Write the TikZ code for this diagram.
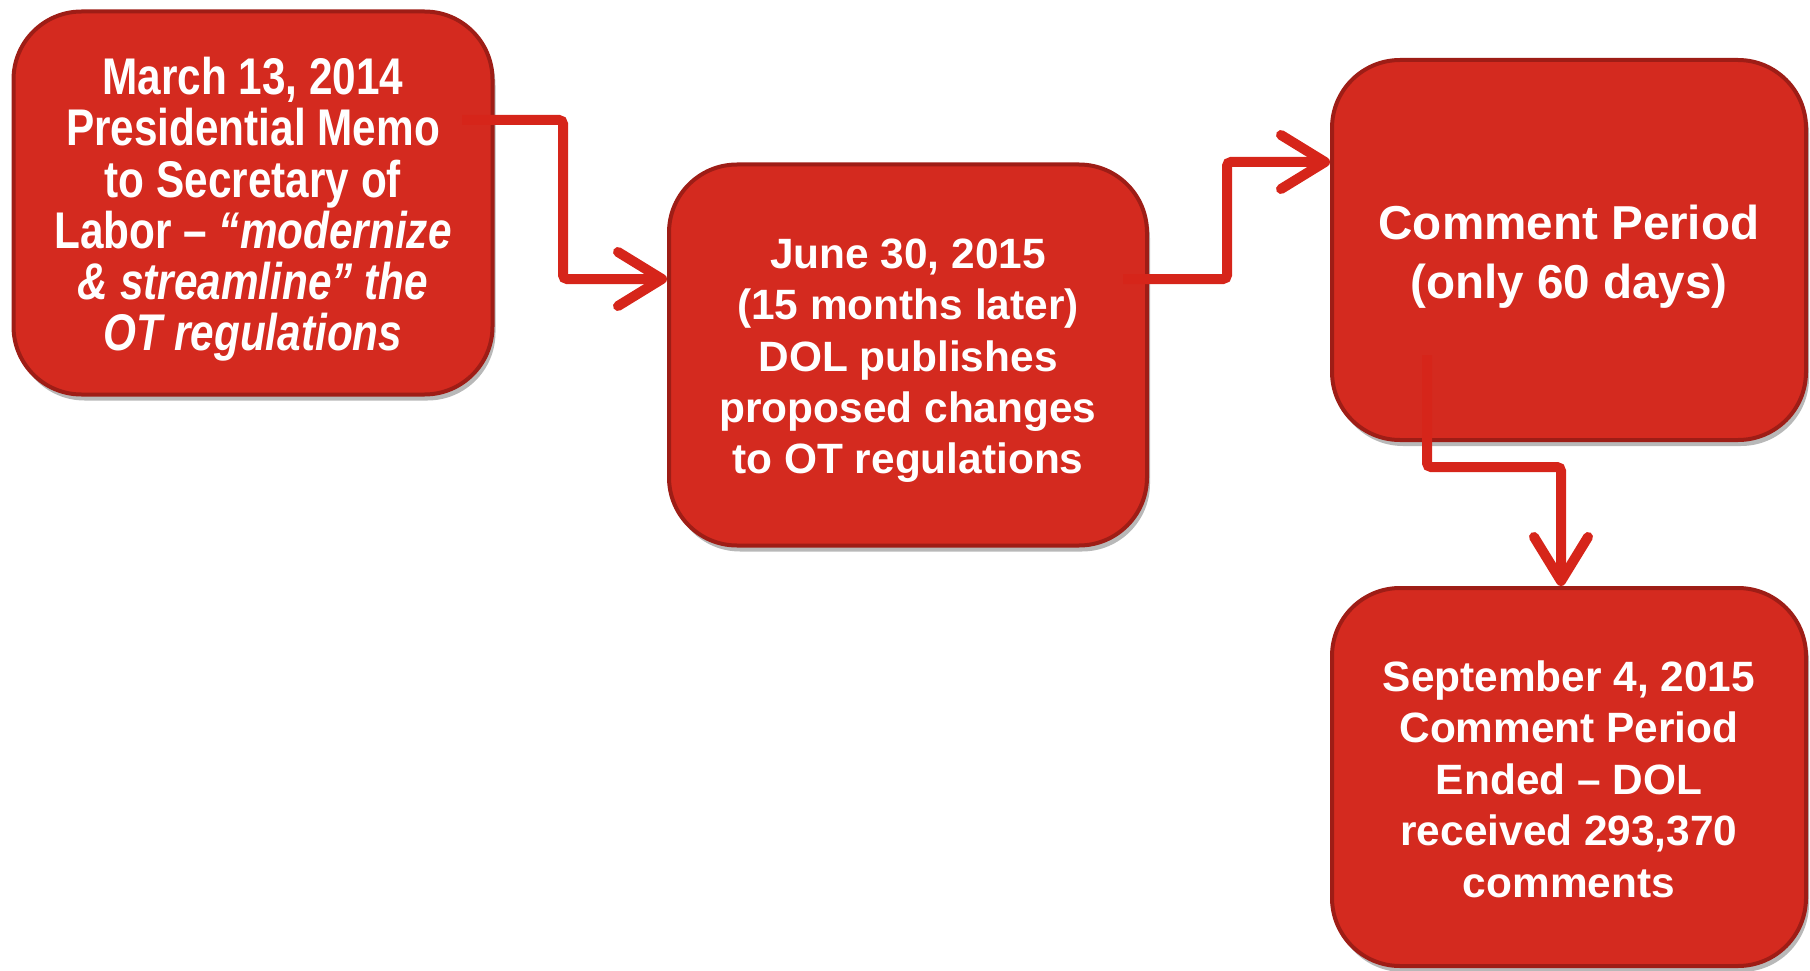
\documentclass[tikz,border=0pt]{standalone}
\usepackage{fontspec}
\setmainfont{Liberation Sans}
\newfontfamily\narrowfont{Liberation Sans}[FakeStretch=0.82]
\usetikzlibrary{arrows.meta,shadows}
\definecolor{boxfill}{RGB}{212,42,31}
\definecolor{boxedge}{RGB}{158,29,22}
\definecolor{arrowred}{RGB}{214,37,26}
\newcommand{\pushdown}[1]{\rule{0pt}{#1}}
\tikzset{
  stepbox/.style={draw=boxedge, line width=4pt, fill=boxfill, rounded corners=68pt,
    inner sep=0pt, align=center, text=white,
    drop shadow={shadow xshift=3pt, shadow yshift=-6pt, fill=black, opacity=0.28}},
  conn/.style={draw=arrowred, line width=10pt, rounded corners=4pt,
    -{Straight Barb[length=44pt, width=54pt, round]}},
  maintext/.style={font=\fontsize{42.4}{51.4}\selectfont\bfseries},
  bigtext/.style={font=\fontsize{47.6}{59}\selectfont\bfseries},
  narrowtext/.style={font=\narrowfont\fontsize{51.6}{51.2}\selectfont\bfseries}
}
\begin{document}
\begin{tikzpicture}[x=1pt, y=-1pt]
\useasboundingbox (0,0) rectangle (1810,971);
\node[stepbox, narrowtext, minimum width=479pt, minimum height=383pt] (b1) at (253,203)
  {\pushdown{50pt}March 13, 2014\\Presidential Memo\\to Secretary of\\Labor – \textit{“modernize}\\\textit{\& streamline” the}\\\textit{OT regulations}};
\node[stepbox, maintext, minimum width=478pt, minimum height=381pt] (b2) at (908,355)
  {\pushdown{41pt}June 30, 2015\\(15 months later)\\DOL publishes\\proposed changes\\to OT regulations};
\node[stepbox, bigtext, minimum width=474pt, minimum height=380pt] (b3) at (1569,250)
  {\pushdown{48pt}Comment Period\\(only 60 days)};
\node[stepbox, maintext, minimum width=474pt, minimum height=378pt] (b4) at (1569,777)
  {\pushdown{35pt}September 4, 2015\\Comment Period\\Ended – DOL\\received 293,370\\comments};
\coordinate (s1) at (462,120);
\coordinate (k1) at (563,279);
\coordinate (s2) at (1123,279);
\coordinate (k2) at (1227,162);
\coordinate (s3) at (1427,355);
\coordinate (k3) at (1561,467);
\draw[conn] (s1) -| (k1) -- (k1 -| b2.west);
\draw[conn] (s2) -| (k2) -- (k2 -| b3.west);
\draw[conn] (s3) |- (k3) -- (k3 |- b4.north);
\end{tikzpicture}
\end{document}
